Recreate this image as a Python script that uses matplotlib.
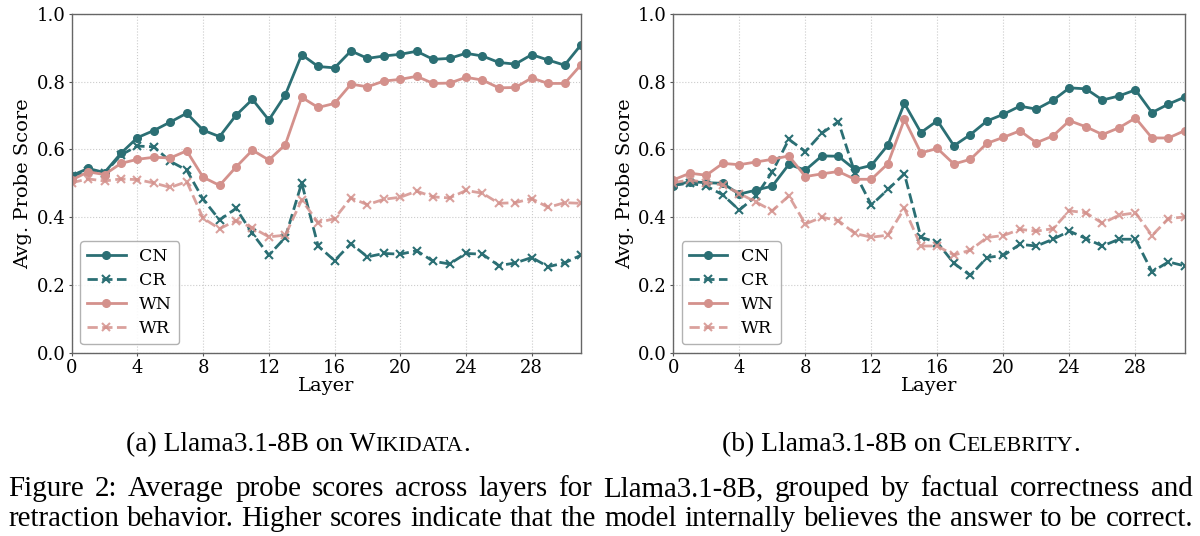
import numpy as np
import matplotlib
matplotlib.use("Agg")
import matplotlib.pyplot as plt

# layer index 0..31
layers = list(range(32))

# (a) Wikidata
wiki_cn = [0.523, 0.544, 0.532, 0.589, 0.635, 0.656, 0.681, 0.707, 0.657, 0.638,
           0.701, 0.748, 0.687, 0.761, 0.880, 0.845, 0.841, 0.891, 0.869, 0.876,
           0.881, 0.890, 0.866, 0.869, 0.884, 0.876, 0.857, 0.852, 0.880, 0.864,
           0.849, 0.909]
wiki_cr = [0.522, 0.535, 0.530, 0.584, 0.610, 0.608, 0.565, 0.539, 0.453, 0.392,
           0.426, 0.352, 0.288, 0.340, 0.501, 0.315, 0.272, 0.322, 0.283, 0.293,
           0.291, 0.301, 0.270, 0.262, 0.293, 0.291, 0.257, 0.265, 0.281, 0.254,
           0.265, 0.288]
wiki_wn = [0.510, 0.534, 0.526, 0.559, 0.571, 0.577, 0.575, 0.596, 0.518, 0.494,
           0.548, 0.598, 0.569, 0.614, 0.754, 0.724, 0.736, 0.793, 0.785, 0.802,
           0.807, 0.816, 0.795, 0.796, 0.813, 0.805, 0.782, 0.783, 0.811, 0.795,
           0.795, 0.850]
wiki_wr = [0.502, 0.513, 0.507, 0.513, 0.511, 0.501, 0.488, 0.505, 0.397, 0.366,
           0.390, 0.369, 0.342, 0.347, 0.451, 0.384, 0.396, 0.457, 0.437, 0.453,
           0.459, 0.477, 0.460, 0.457, 0.479, 0.471, 0.441, 0.443, 0.455, 0.429,
           0.443, 0.441]

# (b) Celebrity
celeb_cn = [0.493, 0.505, 0.502, 0.500, 0.468, 0.480, 0.492, 0.556, 0.539, 0.581,
            0.580, 0.541, 0.553, 0.613, 0.736, 0.650, 0.685, 0.611, 0.644, 0.684,
            0.704, 0.728, 0.719, 0.745, 0.782, 0.779, 0.746, 0.758, 0.776, 0.709,
            0.734, 0.755]
celeb_cr = [0.495, 0.500, 0.492, 0.466, 0.421, 0.462, 0.534, 0.630, 0.594, 0.648,
            0.682, 0.531, 0.436, 0.482, 0.528, 0.341, 0.325, 0.264, 0.228, 0.281,
            0.287, 0.320, 0.315, 0.335, 0.359, 0.337, 0.315, 0.335, 0.335, 0.239,
            0.268, 0.256]
celeb_wn = [0.510, 0.530, 0.524, 0.559, 0.555, 0.563, 0.571, 0.581, 0.520, 0.528,
            0.535, 0.512, 0.512, 0.558, 0.689, 0.590, 0.603, 0.557, 0.571, 0.618,
            0.636, 0.655, 0.620, 0.640, 0.685, 0.667, 0.644, 0.664, 0.693, 0.634,
            0.634, 0.656]
celeb_wr = [0.502, 0.510, 0.502, 0.495, 0.470, 0.445, 0.419, 0.463, 0.380, 0.400,
            0.390, 0.352, 0.341, 0.347, 0.426, 0.315, 0.315, 0.288, 0.303, 0.340,
            0.346, 0.364, 0.359, 0.366, 0.419, 0.413, 0.382, 0.406, 0.413, 0.346,
            0.396, 0.401]

xticks = [0, 4, 8, 12, 16, 20, 24, 28]
yticks = [0.0, 0.2, 0.4, 0.6, 0.8, 1.0]

TEAL = "#2b6f74"
PINK = "#d4918c"

plt.rcParams["font.family"] = "DejaVu Serif"

fig = plt.figure(figsize=(12, 5.36), dpi=100)
W, H = 1200.0, 536.0

ax_a = fig.add_axes([71.7 / W, 1 - 352.7 / H, (581 - 71.7) / W, (352.7 - 14) / H])
ax_b = fig.add_axes([673.3 / W, 1 - 352.7 / H, (1185 - 673.3) / W, (352.7 - 14) / H])


def draw(ax, cn, cr, wn, wr):
    ax.plot(layers, cn, color=TEAL, lw=2, marker="o", ms=5.5, label="CN")
    ax.plot(layers, cr, color=TEAL, lw=2, ls="--", marker="x", ms=6, mew=1.5, label="CR")
    ax.plot(layers, wn, color=PINK, lw=2, marker="o", ms=5.5, label="WN")
    ax.plot(layers, wr, color=PINK, lw=2, ls="--", marker="x", ms=6, mew=1.5,
            alpha=0.85, label="WR")
    ax.set_xlim(0, 31)
    ax.set_ylim(0, 1)
    ax.set_xticks(xticks)
    ax.set_yticks(yticks)
    ax.tick_params(labelsize=13, length=2.5, pad=2, color="#555555")
    ax.grid(True, ls=":", lw=0.8, color="#cccccc")
    ax.set_axisbelow(True)
    for s in ax.spines.values():
        s.set_color("#666666")
        s.set_linewidth(1.0)
    ax.set_xlabel("Layer", fontsize=14, labelpad=0)
    ax.set_ylabel("Avg. Probe Score", fontsize=14, labelpad=3)
    ax.legend(loc="lower left", fontsize=12.5, handlelength=2.2,
              borderaxespad=0.5, labelspacing=0.4, framealpha=0.9,
              edgecolor="#aaaaaa")


draw(ax_a, wiki_cn, wiki_cr, wiki_wn, wiki_wr)
draw(ax_b, celeb_cn, celeb_cr, celeb_wn, celeb_wr)

renderer = fig.canvas.get_renderer()
SERIF = "Liberation Serif"


def text_width(s, size):
    t = fig.text(0, 0, s, fontsize=size, family=SERIF)
    w = t.get_window_extent(renderer).width
    t.remove()
    return w


def pieces_centered(pieces, xc, y_base, target):
    # small caps pieces laid side by side, scaled to the target width
    w0 = sum(text_width(s, sz) for s, sz in pieces)
    k = target / w0
    texts = [fig.text(0, 1 - y_base / H, s, fontsize=sz * k, family=SERIF, va="baseline")
             for s, sz in pieces]
    widths = [t.get_window_extent(renderer).width for t in texts]
    x = xc - sum(widths) / 2
    for t, w in zip(texts, widths):
        t.set_x(x / W)
        x += w


def justified(line, x0, x1, y_base, size):
    words = line.split(" ")
    texts = [fig.text(0, 1 - y_base / H, w, fontsize=size, family=SERIF, va="baseline")
             for w in words]
    widths = [t.get_window_extent(renderer).width for t in texts]
    gap = (x1 - x0 - sum(widths)) / (len(words) - 1)
    x = x0
    for t, w in zip(texts, widths):
        t.set_x(x / W)
        x += w + gap


SUB = 16
pieces_centered([("(a) Llama3.1-8B on W", SUB), ("IKIDATA", SUB * 0.8), (".", SUB)], 298, 451, 344)
pieces_centered([("(b) Llama3.1-8B on C", SUB), ("ELEBRITY", SUB * 0.8), (".", SUB)], 901, 451, 358)

line1 = "Figure 2: Average probe scores across layers for Llama3.1-8B, grouped by factual correctness and"
line2 = "retraction behavior. Higher scores indicate that the model internally believes the answer to be correct."
widest = max(text_width(line1, 18), text_width(line2, 18))
cap_size = 18 * 1182 / widest
justified(line1, 8, 1193, 496, cap_size)
justified(line2, 8, 1193, 526, cap_size)

fig.savefig("out.png", dpi=100)
plt.close()
